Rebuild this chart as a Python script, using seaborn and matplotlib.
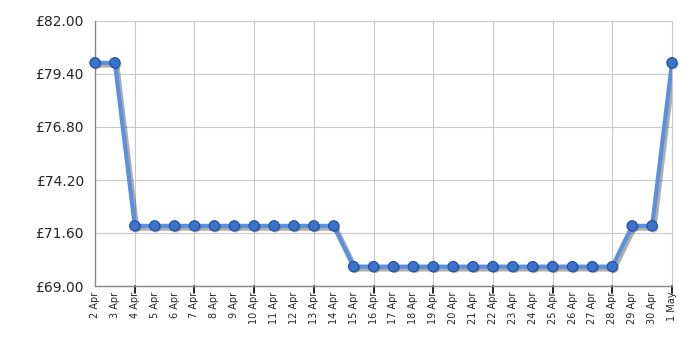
import matplotlib
matplotlib.use("Agg")
import matplotlib.pyplot as plt
import matplotlib.patheffects as pe
import seaborn as sns
import pandas as pd
import numpy as np

dates = ["2 Apr", "3 Apr", "4 Apr", "5 Apr", "6 Apr", "7 Apr", "8 Apr", "9 Apr",
         "10 Apr", "11 Apr", "12 Apr", "13 Apr", "14 Apr", "15 Apr", "16 Apr",
         "17 Apr", "18 Apr", "19 Apr", "20 Apr", "21 Apr", "22 Apr", "23 Apr",
         "24 Apr", "25 Apr", "26 Apr", "27 Apr", "28 Apr", "29 Apr", "30 Apr", "1 May"]
prices = [79.95, 79.95, 71.95, 71.95, 71.95, 71.95, 71.95, 71.95,
          71.95, 71.95, 71.95, 71.95, 71.95, 69.95, 69.95,
          69.95, 69.95, 69.95, 69.95, 69.95, 69.95, 69.95,
          69.95, 69.95, 69.95, 69.95, 69.95, 71.95, 71.95, 79.95]
y_ticks = [69.00, 71.60, 74.20, 76.80, 79.40, 82.00]

df = pd.DataFrame({"idx": np.arange(len(dates)), "price": prices})

sns.set_style("white")
plt.rcParams['font.family'] = ['DejaVu Sans']

fig = plt.figure(figsize=(7, 3.5), dpi=100)
ax = fig.add_axes([95/700, 1-286/350, (672-95)/700, (286-21)/350])

# grid
for v in y_ticks:
    ax.axhline(v, color="#c8c8c8", linewidth=0.8, zorder=0, clip_on=False)
for i in range(2, len(dates), 3):
    ax.axvline(i, color="#c8c8c8", linewidth=0.8, zorder=0, clip_on=False)

line_shadow = [pe.SimpleLineShadow(offset=(1.2, -1.5), shadow_color="#333333", alpha=0.4, linewidth=4), pe.Normal()]
sns.lineplot(data=df, x="idx", y="price", ax=ax, color="#5b8fe0", linewidth=3,
             path_effects=line_shadow, zorder=3)
mk_shadow = [pe.SimplePatchShadow(offset=(1, -1), shadow_rgbFace="#333333", alpha=0.35), pe.Normal()]
sns.scatterplot(data=df, x="idx", y="price", ax=ax, s=55, color="#3a72cc",
                edgecolor="#1f4f99", linewidth=0.8, zorder=4, clip_on=False,
                path_effects=mk_shadow)

ax.set_xlim(0, len(dates) - 1)
ax.set_ylim(69, 82)
ax.set_yticks(y_ticks)
ax.set_yticklabels([f"£{v:.2f}" for v in y_ticks], fontsize=10)
ax.set_xticks(np.arange(len(dates)))
ax.set_xticklabels(dates, rotation=90, fontsize=7)
ax.set_xlabel("")
ax.set_ylabel("")

for s in ["top", "right"]:
    ax.spines[s].set_visible(False)
for s in ["left", "bottom"]:
    ax.spines[s].set_color("#888888")
    ax.spines[s].set_linewidth(1)

ax.tick_params(axis="y", length=6, width=1.2, color="black", pad=2)
ax.tick_params(axis="x", length=0, pad=4)
for i in range(2, len(dates), 3):
    ax.plot([i, i], [0, -0.025], transform=ax.get_xaxis_transform(), color="black",
            linewidth=1.2, clip_on=False)

fig.savefig("out.png", dpi=100)
